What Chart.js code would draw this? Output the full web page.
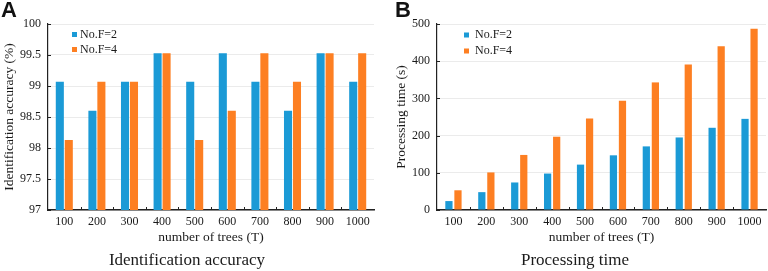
<!DOCTYPE html>
<html>
<head>
<meta charset="utf-8">
<script src="https://cdn.jsdelivr.net/npm/chart.js@4.4.1/dist/chart.umd.min.js"></script>
<style>
  body { margin: 0; background: #fff; }
  #wrap { position: relative; width: 768px; height: 271px; overflow: hidden; }
  .panel { position: absolute; top: 0; width: 384px; height: 271px; }
  .tag { position: absolute; top: -1px; font: bold 22px "Liberation Sans", Arial, sans-serif; line-height: 22px; color: #111; }
</style>
</head>
<body>
<div id="wrap">
  <div class="panel" style="left:0"><canvas id="accChart" width="384" height="271"></canvas></div>
  <div class="panel" style="left:384px"><canvas id="timeChart" width="384" height="271"></canvas></div>
  <div class="tag" style="left:1px">A</div>
  <div class="tag" style="left:395px">B</div>
</div>
<script>
const treeCounts = ['100', '200', '300', '400', '500', '600', '700', '800', '900', '1000'];
const seriesNames = ['No.F=2', 'No.F=4'];
const seriesColors = ['#1b9ad6', '#fd7f22'];

// panel A: identification accuracy (%)
const accuracyF2 = [99.07, 98.60, 99.07, 99.53, 99.07, 99.53, 99.07, 98.60, 99.53, 99.07];
const accuracyF4 = [98.13, 99.07, 99.07, 99.53, 98.13, 98.60, 99.53, 99.07, 99.53, 99.53];

// panel B: processing time (s)
const timeF2 = [24, 48, 74, 98, 122, 147, 171, 195, 221, 245];
const timeF4 = [53, 101, 148, 197, 246, 294, 343, 391, 440, 487];

const serif = '"Liberation Serif", "Times New Roman", serif';
const textColor = '#1a1a1a';

// legend drawn inside the plot area, top-left
const insideLegend = {
  id: 'insideLegend',
  afterDraw(chart, args, opts) {
    const { ctx, chartArea } = chart;
    ctx.save();
    ctx.font = '12px ' + serif;
    ctx.textBaseline = 'middle';
    chart.data.datasets.forEach((ds, i) => {
      const x = chartArea.left + opts.x;
      const y = chartArea.top + opts.y + i * opts.gap;
      ctx.fillStyle = ds.backgroundColor;
      ctx.fillRect(x, y - 2.5, 5, 5);
      ctx.fillStyle = textColor;
      ctx.fillText(ds.label, x + opts.textGap, y);
    });
    ctx.restore();
  }
};

// small inward tick marks on both axes
const innerTicks = {
  id: 'innerTicks',
  afterDraw(chart) {
    const { ctx } = chart;
    const x = chart.scales.x, y = chart.scales.y;
    ctx.save();
    ctx.strokeStyle = '#222';
    ctx.lineWidth = 1;
    ctx.beginPath();
    for (let i = 1; i < x.ticks.length; i++) {
      const px = Math.round((x.getPixelForTick(i - 1) + x.getPixelForTick(i)) / 2) + 0.5;
      ctx.moveTo(px, x.top);
      ctx.lineTo(px, x.top - 3);
    }
    y.ticks.forEach((t, i) => {
      const py = Math.round(y.getPixelForTick(i)) + 0.5;
      ctx.moveTo(y.right, py);
      ctx.lineTo(y.right + 3, py);
    });
    ctx.stroke();
    ctx.restore();
  }
};

function makeChart(id, cfg) {
  return new Chart(document.getElementById(id), {
    type: 'bar',
    data: {
      labels: treeCounts,
      datasets: [
        { label: seriesNames[0], data: cfg.f2, backgroundColor: seriesColors[0], borderWidth: 0,
          categoryPercentage: 0.55, barPercentage: cfg.barPct },
        { label: seriesNames[1], data: cfg.f4, backgroundColor: seriesColors[1], borderWidth: 0,
          categoryPercentage: 0.55, barPercentage: cfg.barPct }
      ]
    },
    options: {
      responsive: false,
      animation: false,
      devicePixelRatio: 1,
      layout: { padding: { top: 24, right: cfg.padRight, left: 0, bottom: 0 } },
      plugins: {
        legend: { display: false },
        tooltip: { enabled: false },
        title: {
          display: true,
          position: 'bottom',
          text: cfg.caption,
          color: textColor,
          font: { family: serif, size: 17, weight: 'normal', lineHeight: 1.2 },
          padding: { top: 5, bottom: 0 }
        },
        insideLegend: cfg.legend
      },
      scales: {
        x: {
          grid: { display: false, drawTicks: false },
          border: { display: true, color: '#222', width: 1.5 },
          ticks: { color: textColor, font: { family: serif, size: 12 }, padding: 5, maxRotation: 0, autoSkip: false },
          title: {
            display: true,
            text: 'number of trees (T)',
            color: textColor,
            font: { family: serif, size: 13.5 },
            padding: { top: 0, bottom: 0 }
          },
          afterFit(scale) { scale.height = 35.6; }
        },
        y: {
          min: cfg.min,
          max: cfg.max,
          grid: { color: '#ebebeb', drawTicks: false },
          border: { display: true, color: '#222', width: 1.2 },
          ticks: {
            stepSize: cfg.step, color: textColor, font: { family: serif, size: 12 }, padding: 7,
            callback: (v) => String(Math.round(v * 10) / 10)
          },
          title: {
            display: true,
            text: cfg.yTitle,
            color: textColor,
            font: { family: serif, size: 13.5 },
            padding: { top: cfg.yTitlePad, bottom: 0 }
          },
          afterFit(scale) { scale.width = cfg.yWidth; }
        }
      }
    },
    plugins: [insideLegend, innerTicks]
  });
}

makeChart('accChart', {
  f2: accuracyF2, f4: accuracyF4,
  min: 97, max: 100, step: 0.5,
  yTitle: 'Identification accuracy (%)',
  caption: 'Identification accuracy',
  yWidth: 48, yTitlePad: 1, padRight: 10, barPct: 0.9,
  legend: { x: 24, y: 10.5, gap: 15, textGap: 8 }
});

makeChart('timeChart', {
  f2: timeF2, f4: timeF4,
  min: 0, max: 500, step: 100,
  yTitle: 'Processing time (s)',
  caption: 'Processing time',
  yWidth: 53, yTitlePad: 9, padRight: 2, barPct: 0.8,
  legend: { x: 27, y: 11, gap: 16, textGap: 11 }
});
</script>
</body>
</html>
